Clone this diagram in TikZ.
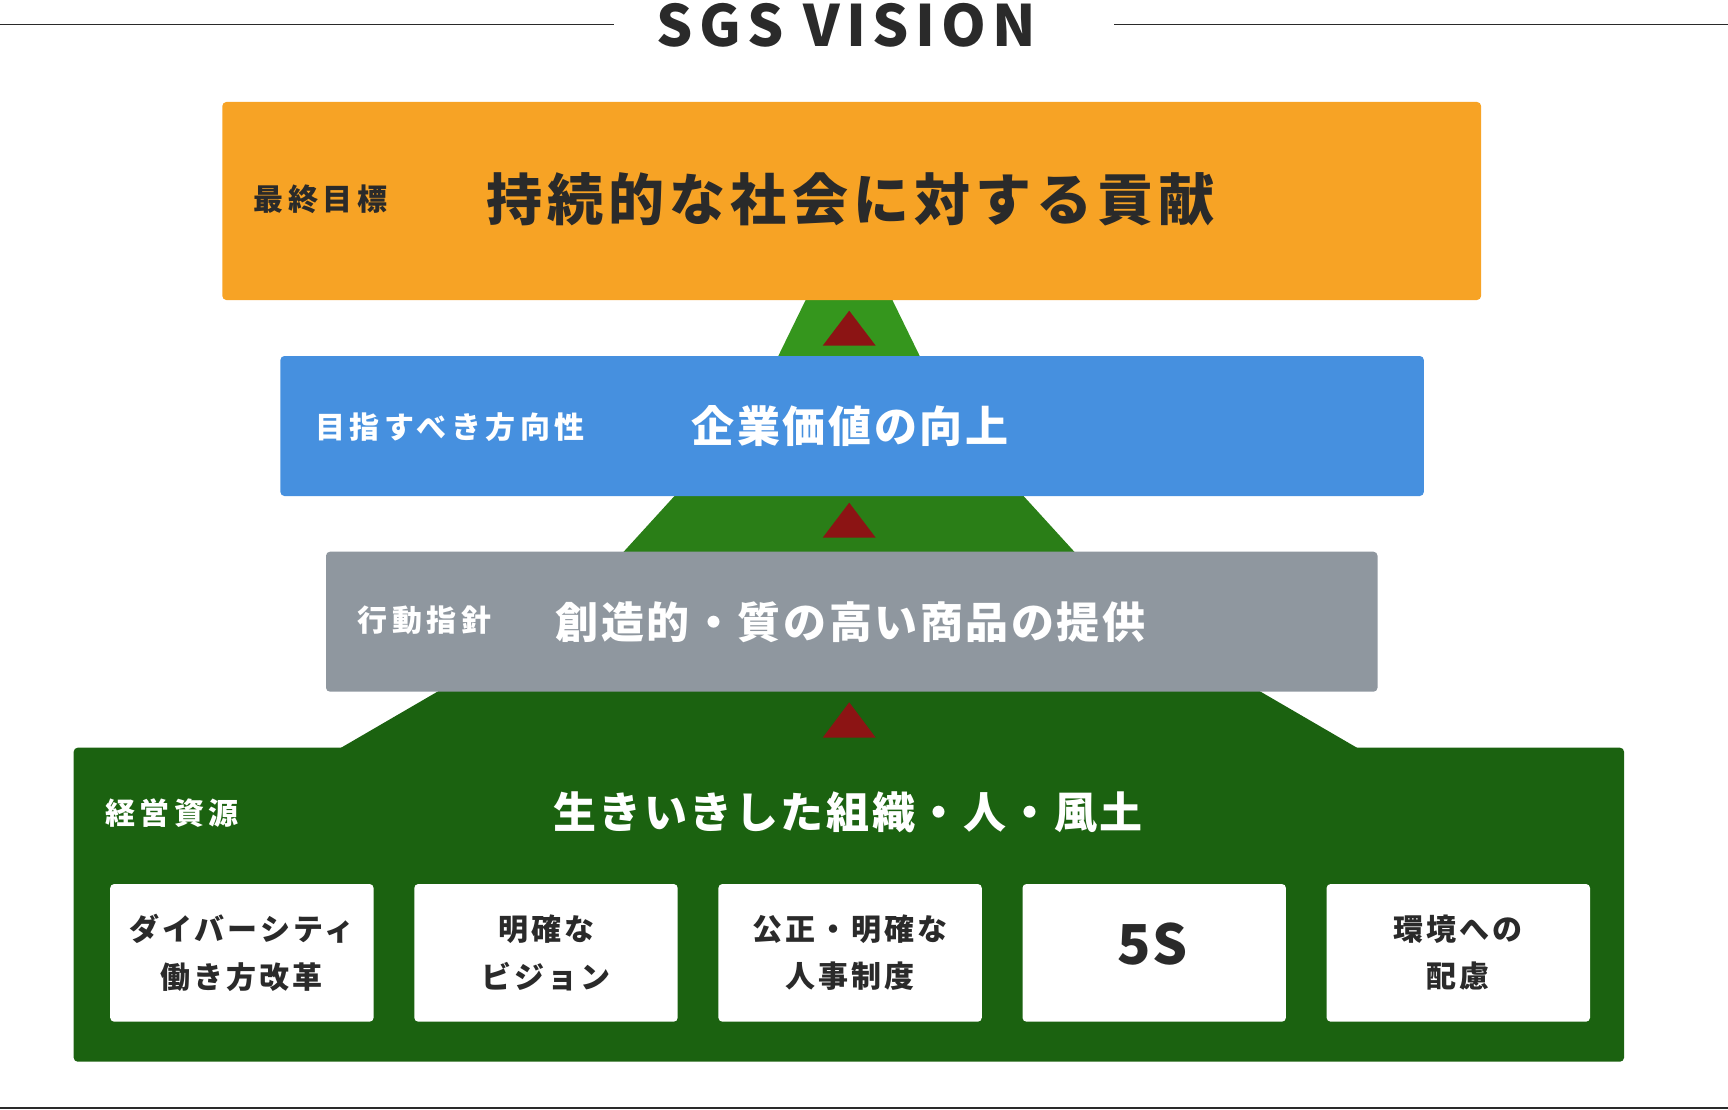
\documentclass[tikz,border=0pt]{standalone}
\usepackage{fontspec}
\newfontfamily\jp{Noto Sans CJK JP}
\usetikzlibrary{positioning}
\definecolor{sgsorange}{HTML}{F7A325}
\definecolor{sgsblue}{HTML}{4690DF}
\definecolor{sgsgray}{HTML}{8F979F}
\definecolor{sgsdeep}{HTML}{1B6210}
\definecolor{sgsmid}{HTML}{2A7E17}
\definecolor{sgslight}{HTML}{35961D}
\definecolor{sgsred}{HTML}{8C1414}
\definecolor{sgsink}{HTML}{2A2A2A}
\tikzset{
    tier/.style={inner sep=0pt, rounded corners=4pt},
    tierlbl/.style={inner sep=0pt, anchor=west, text=white,
        font=\jp\bfseries\fontsize{30}{34}\selectfont\addfontfeatures{LetterSpace=15}},
    tiermain/.style={inner sep=0pt, text=white,
        font=\jp\bfseries\fontsize{43}{48}\selectfont\addfontfeatures{LetterSpace=6}},
    resbox/.style={inner sep=0pt, rounded corners=4pt, fill=white,
        minimum width=263.4pt, minimum height=137.7pt},
    restxt/.style={inner sep=0pt, align=center, text=sgsink,
        font=\jp\bfseries\fontsize{30}{47.5}\selectfont\addfontfeatures{LetterSpace=10}},
    upmark/.style={fill=sgsred},
    rule/.style={draw=sgsink, line width=1.5pt}
}
\begin{document}
\begin{tikzpicture}[x=1pt, y=-1pt]
    \useasboundingbox (0, 0) rectangle (1728, 1110);

    % title
    \node[inner sep=0pt, anchor=base, text=sgsink,
        font=\jp\bfseries\fontsize{57}{64}\selectfont\addfontfeatures{LetterSpace=11}]
        (ttl) at (846.4, 46.5) {SGS VISION};
    \draw[rule] (0, 24.3) -- (613.6, 24.3);
    \draw[rule] (1114, 24.3) -- (1728, 24.3);
    \draw[rule, line width=2.5pt] (0, 1108) -- (1728, 1108);

    % mountain
    \fill[sgslight] (810.5, 290) -- (887.5, 290) -- (924.6, 366) -- (773.4, 366) -- cycle;
    \fill[sgsmid] (683.6, 486) -- (1014.4, 486) -- (1083.7, 562) -- (614.3, 562) -- cycle;
    \fill[sgsdeep] (455.8, 681) -- (1242.2, 681) -- (1374.6, 758) -- (323.4, 758) -- cycle;

    % tiers
    \node[tier, fill=sgsorange, minimum width=1258.7pt, minimum height=198pt] (goal) at (851.7, 201) {};
    \node[tier, fill=sgsblue, minimum width=1143.4pt, minimum height=140pt] (dir) at (852.1, 426) {};
    \node[tier, fill=sgsgray, minimum width=1051.5pt, minimum height=140pt] (act) at (851.75, 621.7) {};
    \node[tier, fill=sgsdeep, minimum width=1550.3pt, minimum height=314pt] (res) at (848.85, 904.7) {};

    \node[tierlbl, text=sgsink] (goallbl) at (253.6, 199) {最終目標};
    \node[tiermain, text=sgsink, font=\jp\bfseries\fontsize{56}{62}\selectfont\addfontfeatures{LetterSpace=9}]
        (goalmain) at (850.6, 199) {持続的な社会に対する貢献};
    \node[tierlbl] (dirlbl) at (315, 427) {目指すべき方向性};
    \node[tiermain] (dirmain) at (850, 426) {企業価値の向上};
    \node[tierlbl] (actlbl) at (357.3, 620.5) {行動指針};
    \node[tiermain] (actmain) at (850.6, 621.7) {創造的・質の高い商品の提供};
    \node[tierlbl] (reslbl) at (104.8, 813) {経営資源};
    \node[tiermain] (resmain) at (848, 812) {生きいきした組織・人・風土};

    % arrows up
    \fill[upmark] (849.2, 310.7) -- (875.7, 345.7) -- (822.7, 345.7) -- cycle;
    \fill[upmark] (849.2, 502.7) -- (875.7, 537.7) -- (822.7, 537.7) -- cycle;
    \fill[upmark] (849.2, 702.3) -- (875.7, 737.7) -- (822.7, 737.7) -- cycle;

    % resources
    \node[resbox] (div) at (241.9, 952.85) {};
    \node[resbox] (vis) at (546.0, 952.85) {};
    \node[resbox] (hr) at (850.1, 952.85) {};
    \node[resbox] (five) at (1154.2, 952.85) {};
    \node[resbox] (eco) at (1458.3, 952.85) {};

    \node[restxt] (divtxt) at (div) {ダイバーシティ\\働き方改革};
    \node[restxt] (vistxt) at (vis) {明確な\\ビジョン};
    \node[restxt] (hrtxt) at (hr) {公正・明確な\\人事制度};
    \node[restxt, font=\jp\bfseries\fontsize{55}{60}\selectfont\addfontfeatures{LetterSpace=4}]
        (fivetxt) at (1152.6, 944) {5S};
    \node[restxt] (ecotxt) at (eco) {環境への\\配慮};
\end{tikzpicture}
\end{document}
